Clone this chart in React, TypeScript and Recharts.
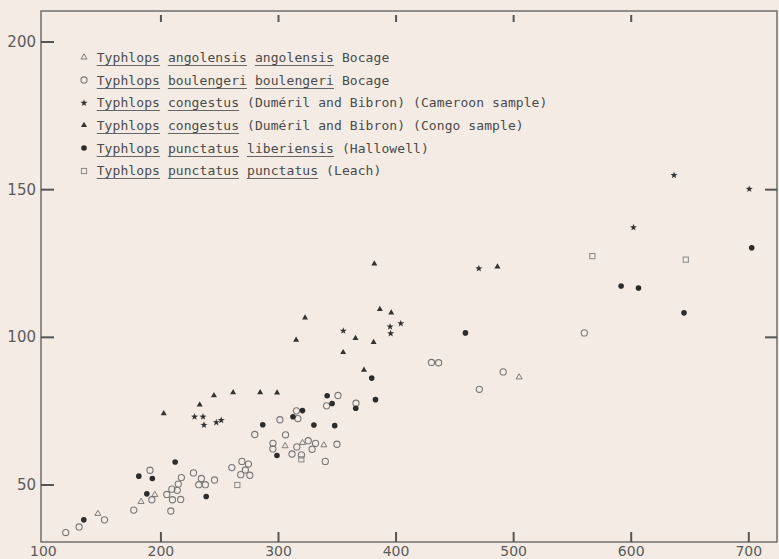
import { ScatterChart, Scatter, XAxis, YAxis, ReferenceArea, Legend } from 'recharts';

// [body length, value] pairs
const angolensis = [
  [146.4, 40.4], [183.1, 44.4], [194.8, 46.8], [305.6, 63.3], [320.4, 64.4], [338.6, 63.6], [504.7, 86.6],
];

const boulengeri = [
  [119, 33.9], [130.4, 35.8], [152, 38.2], [176.9, 41.5], [192.3, 45], [190.7, 55], [205, 46.8],
  [209.3, 48.6], [213.9, 48.2], [214.8, 50.3], [217.4, 52.5], [209.8, 45], [216.8, 45.1], [208.4, 41.2],
  [227.7, 54.1], [234.4, 52.2], [232.2, 50.1], [237.8, 50.1], [245.6, 51.7], [260.3, 55.9], [268.9, 58],
  [274.4, 57.1], [271.8, 55.1], [267.9, 53.5], [275.6, 53.3], [279.8, 67.1], [301.2, 72.1], [306, 67],
  [295.3, 64.1], [295.2, 62.2], [311.5, 60.5], [315.6, 62.9], [325.3, 65], [331.5, 64.1], [328.6, 62.1],
  [349.7, 63.8], [319.5, 60.2], [339.8, 58], [315.3, 75.1], [316.5, 72.5], [340.9, 76.8], [350.6, 80.3],
  [365.9, 77.7], [430.1, 91.5], [436.2, 91.4], [491.1, 88.3], [470.8, 82.4], [560.1, 101.5],
];

const congestusCameroon = [
  [228.6, 73.1], [235.8, 73.1], [236.6, 70.3], [247.1, 71.2], [251.3, 71.9], [355.1, 102.2], [394.9, 103.6],
  [395.4, 101.3], [404, 104.7], [470.4, 123.3], [601.9, 137.2], [636.4, 154.9], [700.4, 150.2],
];

const congestusCongo = [
  [202.4, 74.3], [233, 77.3], [245.1, 80.4], [261.4, 81.4], [284.4, 81.4], [298.8, 81.3], [315, 99.2],
  [322.6, 106.7], [355, 95], [365.5, 99.8], [380.9, 98.4], [372.7, 89], [381.5, 125], [386.2, 109.6],
  [395.9, 108.4], [486.2, 124],
];

const liberiensis = [
  [134.4, 38.2], [181.2, 53], [192.7, 52.2], [188, 47], [212.1, 57.8], [238.5, 46.1], [286.6, 70.4],
  [298.7, 60], [312.3, 73.1], [320.4, 75.2], [330.1, 70.3], [347.8, 70.1], [341.4, 80.2], [345.6, 77.6],
  [365.7, 76], [379.3, 86.2], [382.5, 78.9], [459, 101.5], [591.4, 117.4], [606.2, 116.7], [644.9, 108.3],
  [702.5, 130.3],
];

const punctatus = [
  [265, 50], [319.4, 58.7], [567, 127.5], [646.4, 126.3],
];

const xTicks = [100, 200, 300, 400, 500, 600, 700];
const topTicks = [200, 300, 400, 500, 600];
const yTicks = [50, 100, 150, 200];
const rightTicks = [100, 150];

const X_DOMAIN = [98, 724];
const Y_DOMAIN = [30.7, 210.5];

const INK = '#5a5a5a';
const LINE = '#6f6f6f';
const TICK = '#555';

const toPoints = (pairs: number[][]) => pairs.map(([x, y]) => ({ x, y }));

// inward tick marks on the top, left and right edges (bottom ones come with the x axis labels)
const frameTicks = [
  ...topTicks.map((t) => ({ x: t, y: Y_DOMAIN[1], side: 'top' })),
  ...yTicks.map((t) => ({ x: X_DOMAIN[0], y: t, side: 'left' })),
  ...rightTicks.map((t) => ({ x: X_DOMAIN[1], y: t, side: 'right' })),
];

const TICK_GEOM: Record<string, [number, number, number, number]> = {
  top: [0, 4, 0, 11],
  left: [0, 0, 13, 0],
  right: [-12, 0, 0, 0],
};

const FrameTick = (props: any) => {
  const { cx, cy } = props;
  const side = (props.payload && props.payload.side) || props.side || 'left';
  const [a, b, c, d] = TICK_GEOM[side];
  return <path d={`M${cx + a},${cy + b}L${cx + c},${cy + d}`} fill="none" stroke={TICK} strokeWidth={2} />;
};

const starPath = (cx: number, cy: number, ro = 3.7, ri = 1.5) => {
  let d = '';
  for (let i = 0; i < 10; i++) {
    const r = i % 2 === 0 ? ro : ri;
    const a = -Math.PI / 2 + (i * Math.PI) / 5;
    d += (i === 0 ? 'M' : 'L') + (cx + r * Math.cos(a)).toFixed(2) + ',' + (cy + r * Math.sin(a)).toFixed(2);
  }
  return d + 'Z';
};

const triPath = (cx: number, cy: number) => `M${cx},${cy - 3.2}L${cx + 3},${cy + 2}L${cx - 3},${cy + 2}Z`;

const OpenTriangle = ({ cx, cy }: any) => <path d={triPath(cx, cy)} fill="none" stroke="#7d7d7d" strokeWidth={1} />;
const OpenCircle = ({ cx, cy }: any) => <circle cx={cx} cy={cy} r={3.1} fill="none" stroke="#777" strokeWidth={1.1} />;
const Star = ({ cx, cy }: any) => <path d={starPath(cx, cy)} fill="#333" />;
const FilledTriangle = ({ cx, cy }: any) => <path d={triPath(cx, cy)} fill="#333" />;
const FilledCircle = ({ cx, cy }: any) => <circle cx={cx} cy={cy} r={2.8} fill="#2c2c2c" />;
const OpenSquare = ({ cx, cy }: any) => (
  <rect x={cx - 2.6} y={cy - 2.6} width={5.2} height={5.2} fill="none" stroke="#888" strokeWidth={1} />
);

// legend rows: [marker, underlined words, rest of line]
const legendRows: [any, string[], string][] = [
  [OpenTriangle, ['Typhlops', 'angolensis', 'angolensis'], 'Bocage'],
  [OpenCircle, ['Typhlops', 'boulengeri', 'boulengeri'], 'Bocage'],
  [Star, ['Typhlops', 'congestus'], '(Duméril and Bibron) (Cameroon sample)'],
  [FilledTriangle, ['Typhlops', 'congestus'], '(Duméril and Bibron) (Congo sample)'],
  [FilledCircle, ['Typhlops', 'punctatus', 'liberiensis'], '(Hallowell)'],
  [OpenSquare, ['Typhlops', 'punctatus', 'punctatus'], '(Leach)'],
];

const LegendBox = () => (
  <div style={{ fontFamily: '"DejaVu Sans Mono", monospace', fontSize: 13, letterSpacing: 0.08, color: '#4a4a4a' }}>
    {legendRows.map(([Shape, words, rest], i) => (
      <div key={i} style={{ height: 22.7, display: 'flex', alignItems: 'center', whiteSpace: 'pre' }}>
        <svg width={12} height={12} style={{ marginRight: 6.7 }}>
          <Shape cx={6} cy={6} />
        </svg>
        {words.map((w, j) => (
          <span key={j}>
            <span
              style={{
                textDecoration: 'underline',
                textUnderlineOffset: 2.5,
                textDecorationSkipInk: 'none',
                textDecorationColor: '#666',
              }}
            >
              {w}
            </span>
            {' '}
          </span>
        ))}
        <span>{rest}</span>
      </div>
    ))}
  </div>
);

const labelStyle = { fontFamily: '"DejaVu Sans", sans-serif', fontSize: 14, fill: INK };

const BottomTick = ({ x, y, payload }: any) => (
  <g>
    {payload.value > 100 && <path d={`M${x},${y}L${x},${y - 10}`} fill="none" stroke={TICK} strokeWidth={2} />}
    <text x={x} y={y + 8.5} textAnchor="middle" dominantBaseline="central" style={labelStyle}>
      {payload.value}
    </text>
  </g>
);

const LeftTick = ({ x, y, payload }: any) => (
  <text x={x - 5} y={y} textAnchor="end" dominantBaseline="central" style={{ ...labelStyle, fontSize: 15 }}>
    {payload.value}
  </text>
);

export default function App() {
  return (
    <div style={{ position: 'absolute', left: 0, top: 0, width: 779, height: 559, background: '#f4ece4' }}>
      <ScatterChart width={779} height={559} margin={{ top: 11, right: 2, bottom: 0, left: 0 }}>
        <XAxis
          type="number"
          dataKey="x"
          domain={X_DOMAIN}
          allowDataOverflow
          ticks={xTicks}
          height={17}
          axisLine={false}
          tickLine={false}
          tickSize={0}
          tickMargin={0}
          tick={<BottomTick />}
        />
        <YAxis
          type="number"
          dataKey="y"
          domain={Y_DOMAIN}
          allowDataOverflow
          ticks={yTicks}
          width={41}
          axisLine={false}
          tickLine={false}
          tickSize={0}
          tickMargin={0}
          tick={<LeftTick />}
        />
        <ReferenceArea
          x1={X_DOMAIN[0]}
          x2={X_DOMAIN[1]}
          y1={Y_DOMAIN[0]}
          y2={Y_DOMAIN[1]}
          fill="none"
          fillOpacity={0}
          stroke={LINE}
          strokeWidth={1.5}
        />
        <Legend
          layout="vertical"
          verticalAlign="middle"
          align="center"
          content={() => <LegendBox />}
          wrapperStyle={{ left: 78, top: 46, width: 520 }}
        />
        <Scatter name="frame ticks" data={frameTicks} shape={FrameTick} legendType="none" isAnimationActive={false} />
        <Scatter name="angolensis" data={toPoints(angolensis)} shape={OpenTriangle} isAnimationActive={false} />
        <Scatter name="boulengeri" data={toPoints(boulengeri)} shape={OpenCircle} isAnimationActive={false} />
        <Scatter name="congestus Cameroon" data={toPoints(congestusCameroon)} shape={Star} isAnimationActive={false} />
        <Scatter name="congestus Congo" data={toPoints(congestusCongo)} shape={FilledTriangle} isAnimationActive={false} />
        <Scatter name="liberiensis" data={toPoints(liberiensis)} shape={FilledCircle} isAnimationActive={false} />
        <Scatter name="punctatus" data={toPoints(punctatus)} shape={OpenSquare} isAnimationActive={false} />
      </ScatterChart>
    </div>
  );
}
